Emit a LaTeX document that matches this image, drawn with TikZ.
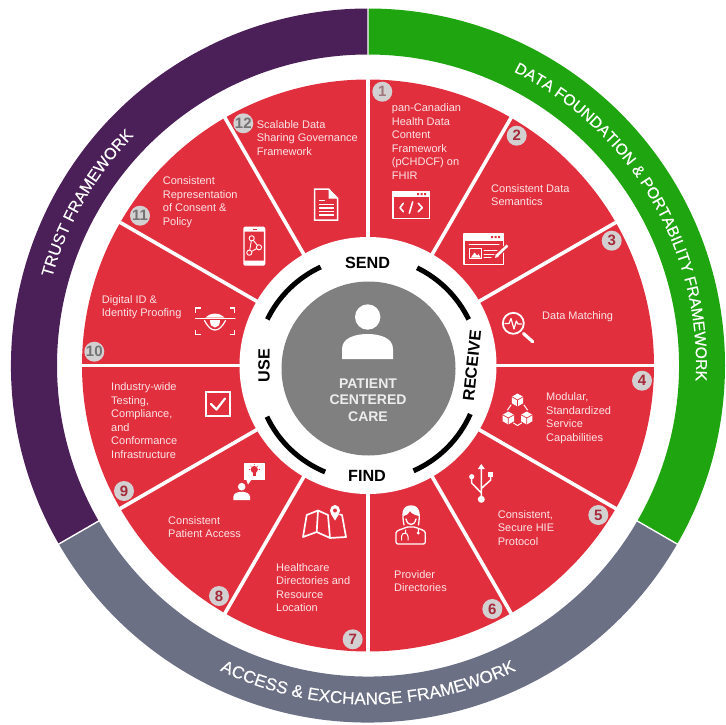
\documentclass[tikz,border=0pt]{standalone}
\usepackage{fontspec}
\setmainfont{Liberation Sans}
\newfontfamily\ringfont[FakeBold=0.25]{Liberation Sans}
\usetikzlibrary{decorations.text}
\definecolor{redfill}{HTML}{E12F3E}
\definecolor{purplering}{HTML}{4B1F57}
\definecolor{greenring}{HTML}{1FA50F}
\definecolor{slatering}{HTML}{6B7085}
\definecolor{coregrey}{HTML}{808080}
\definecolor{itemtext}{HTML}{FBE4E6}
\definecolor{badgegrey}{HTML}{D2D0D0}
\definecolor{digitred}{HTML}{A52A3A}
\tikzset{
  item/.style={anchor=north west,inner sep=0pt,align=left,text=itemtext,font=\fontsize{11}{13.5}\selectfont},
  badge/.style={circle,fill=badgegrey,minimum size=20pt,inner sep=0pt,text=#1,font=\fontsize{15}{15}\selectfont\bfseries},
  badge/.default=digitred,
  verb/.style={inner sep=0pt,text=black,font=\fontsize{16.2}{17}\selectfont\bfseries},
  core/.style={inner sep=0pt,align=center,text=white!93!black,font=\fontsize{14}{16.6}\selectfont\bfseries},
  icon/.style={draw=white,line width=1.3pt,line join=round,line cap=round},
  iconfill/.style={fill=white},
  ringtext/.style={decorate,decoration={text along path,text align=center,text color=white}}
}
\newcommand{\cubeicon}[2]{%
  \fill[white] (#1,#2-6.5) -- (#1+5.7,#2-3.2) -- (#1+5.7,#2+3.2) -- (#1,#2+6.5) -- (#1-5.7,#2+3.2) -- (#1-5.7,#2-3.2) -- cycle;
  \draw[redfill,line width=.7pt] (#1-5.7,#2-3.2) -- (#1,#2) -- (#1+5.7,#2-3.2) (#1,#2) -- (#1,#2+6.5);
}
\begin{document}
\begin{tikzpicture}[x=1pt,y=-1pt]
\path[use as bounding box] (0,0) rectangle (725,725);

\begin{scope}[shift={(368,365.5)},y=1pt]
  % framework rings
  \fill[greenring] (90:357) arc (90:-30:357) -- (-30:311) arc (-30:90:311) -- cycle;
  \fill[slatering] (-30:357) arc (-30:-150:357) -- (-150:311) arc (-150:-30:311) -- cycle;
  \fill[purplering] (210:357) arc (210:90:357) -- (90:311) arc (90:210:311) -- cycle;
  \draw[white,line width=1.4pt] (90:305) -- (90:360) (-30:305) -- (-30:360) (210:305) -- (210:360);
  % ring titles
  \path[ringtext,decoration={text={|\fontsize{15.7}{16}\ringfont|DATA FOUNDATION {\&} PORTABILITY FRAMEWORK}}]
     (68:328) arc (68:-7:328);
  \path[ringtext,decoration={text={|\fontsize{16.2}{16}\ringfont|TRUST FRAMEWORK}}]
     (170:328) arc (170:130:328);
  \path[ringtext,decoration={text={|\fontsize{17.2}{16}\ringfont|ACCESS {\&} EXCHANGE FRAMEWORK}}]
     (-122:339) arc (-122:-58:339);
  % red wheel
  \fill[redfill] (0,0) circle (286);
  \foreach \a in {0,30,...,330}{\draw[white,line width=3.6pt] (\a:120) -- (\a:289);}
  \fill[white] (0,0) circle (128.5);
  % black arcs
  \begin{scope}[shift={(0,-3)}]
    \draw[black,line width=5pt] (64:112) arc (64:26:112);
    \draw[black,line width=5pt] (-24:112) arc (-24:-66:112);
    \draw[black,line width=5pt] (205.5:112) arc (205.5:247.5:112);
    \draw[black,line width=5pt] (115:112) arc (115:154:112);
    \fill[coregrey] (0.5,0) circle (87);
  \end{scope}
\end{scope}

% person
\fill[white] (367.7,317) circle (12.7);
\fill[white] (342,359) -- (342,349) .. controls (342,338) and (355,334) .. (367.7,334)
  .. controls (380,334) and (393,338) .. (393,349) -- (393,359) -- cycle;
\node[core] (careText) at (368,400) {PATIENT\\CENTERED\\CARE};

% verbs
\node[verb] (send) at (367.5,263) {SEND};
\node[verb] (find) at (367,475.5) {FIND};
\node[verb,rotate=90] (use) at (264,365.5) {USE};
\node[verb,rotate=84] (receive) at (472,365.5) {RECEIVE};

% items
\node[item] (t1) at (391.7,103.5) {pan-Canadian\\Health  Data\\Content\\Framework\\(pCHDCF) on\\FHIR};
\node[item] (t2) at (491,184) {Consistent  Data\\Semantics};
\node[item] (t3) at (542,311) {Data Matching};
\node[item] (t4) at (546,392.7) {Modular,\\Standardized\\Service\\Capabilities};
\node[item] (t5) at (497.7,510) {Consistent,\\Secure HIE\\Protocol};
\node[item] (t6) at (394,570) {Provider\\Directories};
\node[item] (t7) at (276,563) {Healthcare\\Directories and\\Resource\\Location};
\node[item] (t8) at (168,516) {Consistent\\Patient  Access};
\node[item] (t9) at (111,382.7) {Industry-wide\\Testing,\\Compliance,\\and\\Conformance\\Infrastructure};
\node[item] (t10) at (101.7,295.3) {Digital ID \&\\Identity  Proofing};
\node[item] (t11) at (162.7,176.7) {Consistent\\Representation\\of Consent  \&\\Policy};
\node[item] (t12) at (256.7,120) {Scalable  Data\\Sharing Governance\\Framework};

% badges
\node[badge=black!35!digitred!50!badgegrey] (b1) at (382.3,91.7) {1};
\node[badge] (b2) at (516.7,135.7) {2};
\node[badge] (b3) at (611.7,240.7) {3};
\node[badge] (b4) at (642,380.7) {4};
\node[badge] (b5) at (598.3,515) {5};
\node[badge] (b6) at (492.3,609) {6};
\node[badge] (b7) at (352.7,639.3) {7};
\node[badge] (b8) at (219,596) {8};
\node[badge] (b9) at (124,491) {9};
\node[badge=black!55] (b10) at (94.3,351.7) {10};
\node[badge=black!55] (b11) at (140,215.7) {11};
\node[badge=black!55] (b12) at (243.3,123.3) {12};

% icon 1: code window
\draw[icon,line width=1.5pt,line cap=butt] (393,191.5) rectangle (429.5,218.5);
\fill[white] (393,191) rectangle (430,197);
\fill[redfill] (417,193) rectangle (419,195) (420.5,193) rectangle (422.5,195) (424,193) rectangle (426,195);
\draw[icon,line width=1.6pt] (403.3,203.3) -- (400,207.7) -- (403.3,211.7)
  (412.7,201.7) -- (409.3,213.3) (418.3,203.3) -- (422.3,207.7) -- (418.3,211.7);

% icon 2: editor window
\draw[icon,line width=1.5pt,line cap=butt] (464,234) rectangle (503.5,264.5);
\fill[white] (464,233.5) rectangle (504,240.5);
\fill[redfill] (491,236) rectangle (493,238) (494.5,236) rectangle (496.5,238) (498,236) rectangle (500,238);
\draw[icon,line width=1pt] (469,244.5) -- (499,244.5);
\draw[icon,line width=1pt] (469.5,248.5) rectangle (481.5,258.5);
\fill[white] (471,257.5) -- (474.5,252.5) -- (477,255.5) -- (478.5,254) -- (480.5,257.5) -- cycle;
\draw[icon,line width=1pt] (484,250) -- (497,250) (484,254) -- (494,254) (484,257.7) -- (491,257.7);
\draw[redfill,line width=4.6pt,line cap=round] (495.5,257) -- (507,246);
\draw[white,line width=2.6pt] (497,255.5) -- (507.5,245.5);
\fill[white] (495,258) -- (495.8,254) -- (498.5,256.7) -- cycle;

% icon 3: magnifier
\draw[icon,line width=1.8pt] (513.3,323.3) circle (10.5);
\draw[icon,line width=3.2pt] (523.5,333.5) -- (532.7,341.7);
\draw[icon,line width=1.2pt] (505,323.5) -- (509,323.5) -- (511,318.5) -- (514,329) -- (516.3,321) -- (518,324) -- (521.5,324);

% icon 4: blocks
\cubeicon{517.5}{400}
\cubeicon{508.3}{418}
\cubeicon{526.7}{418}
\draw[icon,line width=1pt] (511,405) -- (507.5,410) (524,405) -- (527.5,410) (513.5,423) -- (517.5,425.5) -- (521.5,423);

% icon 5: USB
\draw[icon,line width=1.5pt] (481.3,466) -- (481.3,498) (481.3,493) -- (471.7,483) -- (471.7,477)
  (481.3,488.5) -- (490.7,480) -- (490.7,475);
\fill[white] (481.3,464) -- (484.8,469) -- (477.8,469) -- cycle;
\fill[white] (481.3,499.3) circle (3.5);
\fill[white] (471.7,476.7) circle (2.6);
\fill[white] (488,471.7) rectangle (493.4,477);

% icon 6: doctor
\draw[icon] (404,525) .. controls (402,515) and (402,506) .. (411,506)
  .. controls (420,506) and (420,515) .. (418.5,525);
\fill[white] (403.5,516) .. controls (403,508) and (405,506) .. (411,506)
  .. controls (417,506) and (419,508) .. (419,516) .. controls (414,515) and (411,513) .. (410,511)
  .. controls (408,514) and (406,516) .. (403.5,516) -- cycle;
\draw[icon] (406,519) .. controls (407,523) and (409,524.5) .. (411,524.5)
  .. controls (413,524.5) and (415,523) .. (416,519);
\draw[icon,rounded corners=2pt] (396,544) -- (396,535) .. controls (396,530) and (403,529) .. (405.5,527)
  -- (416,527) .. controls (419,529) and (425.3,530) .. (425.3,535) -- (425.3,544) -- cycle;
\draw[icon,line width=1pt] (405.5,530) -- (405.5,533) (401.5,540) -- (401.5,536.5) .. controls (401.5,532) and (408,532) .. (408,536.5) -- (408,540)
  (418.3,529) -- (418.3,532);
\fill[white] (418.3,533) circle (1.6);

% icon 7: map
\draw[icon,line width=1.7pt] (303,537) -- (306.7,515) -- (318,510.5) -- (328,515) -- (330,538) -- (316.7,532) -- cycle
  (318,510.5) -- (316.7,532) (330,538) -- (346,537) -- (342,515) -- (340,514.5);
\fill[white] (335,520.5) .. controls (332,515.5) and (330,513.5) .. (330,510.5)
  .. controls (330,507.5) and (332.3,505) .. (335,505) .. controls (337.7,505) and (340,507.5) .. (340,510.5)
  .. controls (340,513.5) and (338,515.5) .. (335,520.5) -- cycle;
\fill[redfill] (335,510.5) circle (2);

% icon 8: speaker with idea
\fill[white] (244,462.7) rectangle (265,480);
\fill[white] (246,479) -- (248,484.5) -- (252,479) -- cycle;
\fill[redfill] (254.3,469.5) circle (3.6);
\fill[redfill] (252.6,472) rectangle (256,476);
\draw[redfill,line width=.6pt] (254.3,463.8) -- (254.3,465) (249,469.5) -- (250,469.5) (258.6,469.5) -- (259.8,469.5)
  (250.5,465.8) -- (251.3,466.6) (258,465.8) -- (257.2,466.6);
\fill[white] (241.7,486.7) circle (3.8);
\fill[white] (233.3,500) -- (233.3,497) .. controls (233.3,493) and (238,491.8) .. (241.7,491.8)
  .. controls (245.4,491.8) and (250,493) .. (250,497) -- (250,500) -- cycle;

% icon 9: check box
\draw[icon,line width=2pt,line cap=butt,line join=miter] (206,392) rectangle (230,415.5);
\draw[icon,line width=2.2pt] (211,404) -- (216.5,409.5) -- (225,398.5);

% icon 10: eye
\draw[icon,line width=1.5pt,line cap=butt,line join=miter]
  (195.7,312.5) -- (195.7,308) -- (200.5,308) (229.5,308) -- (234.3,308) -- (234.3,312.5)
  (195.7,330) -- (195.7,334.5) -- (200.5,334.5) (229.5,334.5) -- (234.3,334.5) -- (234.3,330);
\draw[icon,line width=1.1pt] (195.7,318.4) -- (235,318.4);
\fill[white] (205.5,317.5) .. controls (209,314.5) and (212,313.5) .. (215,313.5) .. controls (218,313.5) and (221,314.5) .. (224.5,317.5) -- cycle;
\draw[icon,line width=1.2pt] (204.5,320.5) .. controls (208,327) and (211,330) .. (215,330) .. controls (219,330) and (222,327) .. (225.5,320.5);
\fill[white] (210,320) .. controls (210,325) and (212,327.5) .. (215,327.5) .. controls (218,327.5) and (220,325) .. (220,320) -- cycle;

% icon 11: phone
\draw[icon,line width=1.3pt,rounded corners=1pt] (244,227.3) rectangle (264.6,265);
\fill[white] (244,227.3) rectangle (264.6,231.5) (244,260.5) rectangle (264.6,265);
\fill[redfill] (252.5,228.8) rectangle (256.5,230);
\draw[icon,line width=.9pt] (251.7,238.3) -- (259,247.3) -- (249.3,252.7) -- cycle;
\foreach \p in {(251.7,238.3),(259,247.3),(249.3,252.7)}{\fill[redfill] \p circle (2.6); \draw[icon,line width=.9pt] \p circle (2.6);}

% icon 12: document
\draw[icon,line width=1.5pt,line cap=butt,line join=miter] (314.7,189) -- (328.5,189) -- (337.7,198.5) -- (337.7,220) -- (314.7,220) -- cycle;
\fill[white] (328.5,189) -- (328.5,198.5) -- (337.7,198.5) -- cycle;
\draw[icon,line width=1.2pt,line cap=butt] (318.5,200.7) -- (325,200.7)
  (318.5,204.5) -- (334,204.5) (318.5,208) -- (334,208) (318.5,211.5) -- (334,211.5) (318.5,215) -- (334,215);
\end{tikzpicture}
\end{document}
